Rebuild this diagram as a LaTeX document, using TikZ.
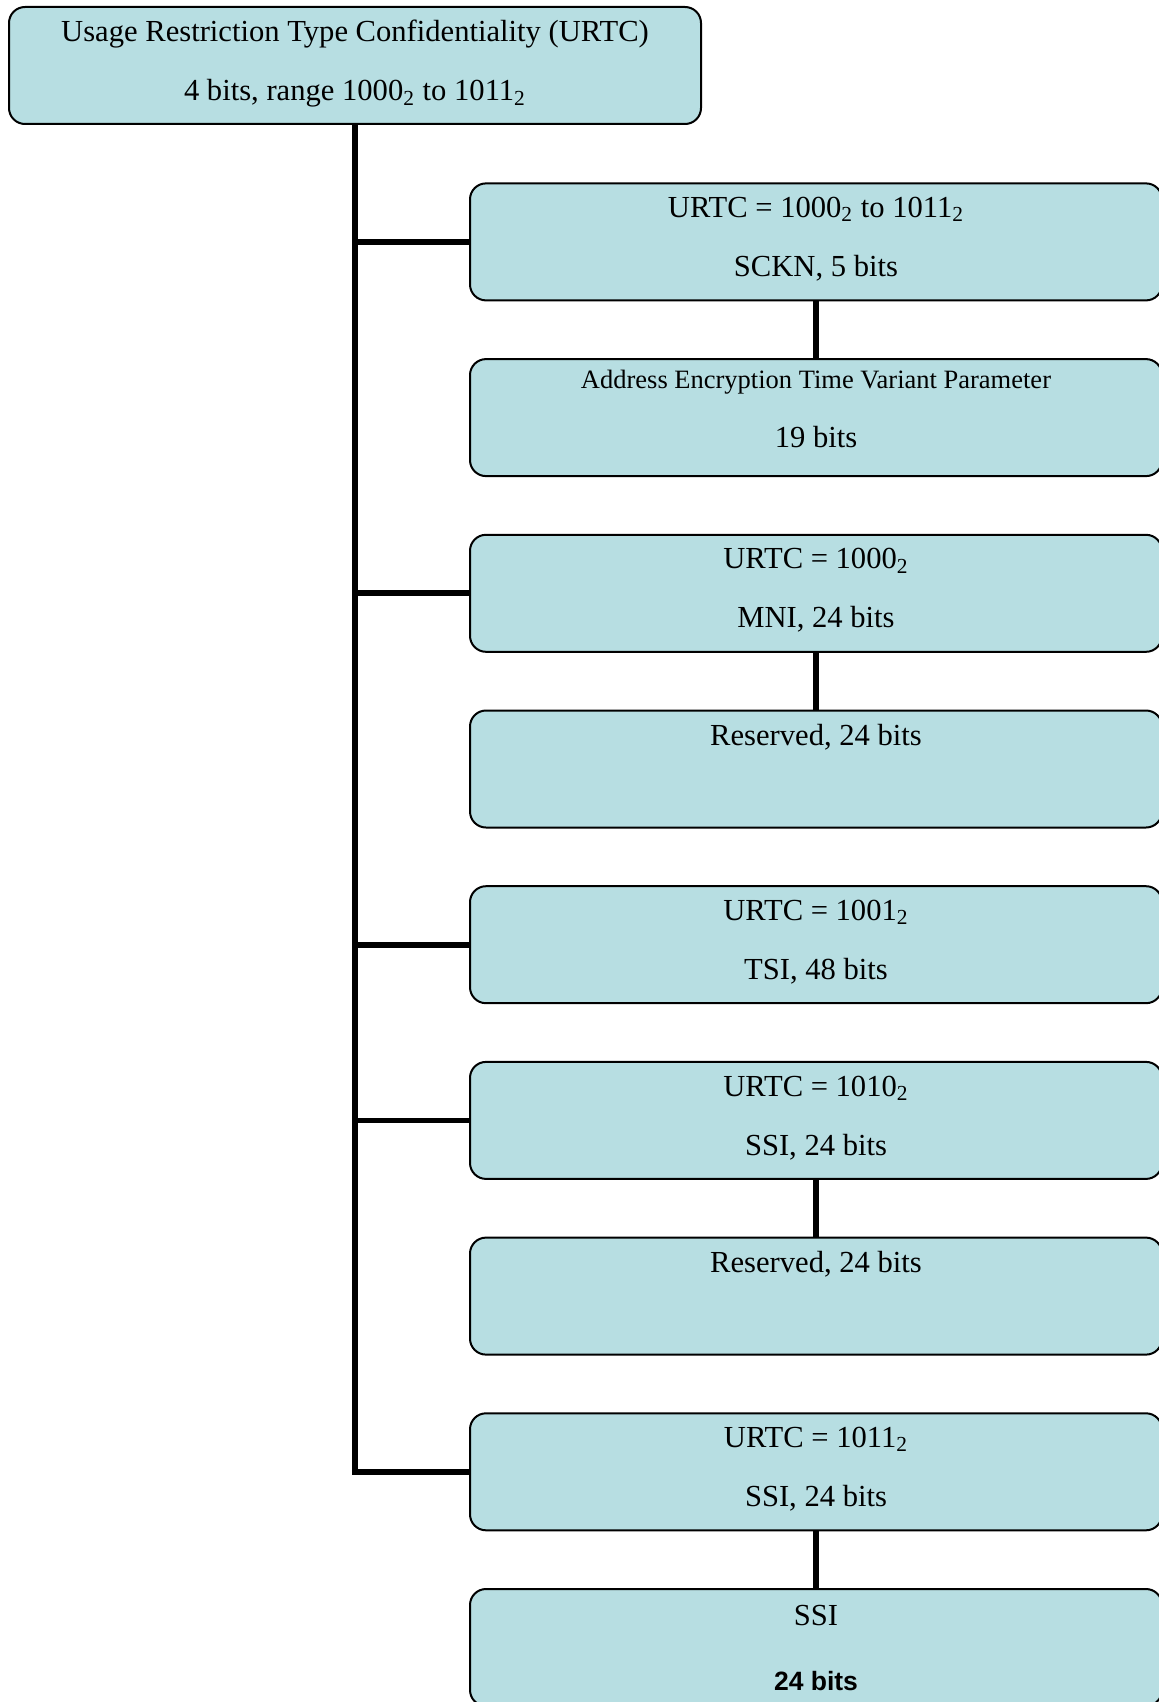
\documentclass[tikz,border=0pt]{standalone}
\usepackage{fontspec}
\setmainfont{Liberation Serif}
\newfontfamily\arialfont{Liberation Sans}
\definecolor{boxfill}{RGB}{183,222,226}
\tikzset{
  box/.style={draw=black, line width=1pt, fill=boxfill, rounded corners=8pt,
    minimum width=346pt, minimum height=58.5pt, inner sep=0pt, align=center,
    font=\fontsize{15.3}{29.5}\selectfont},
  link/.style={line width=2.9pt}
}
\newcommand{\bin}[1]{#1\textsubscript{2}}

\begin{document}
\begin{tikzpicture}[x=0.5pt, y=-0.5pt]
    \useasboundingbox (0,0) rectangle (1159,1702);

    % root
    \node (urtc) at (355,65.5) [box] {Usage Restriction Type Confidentiality (URTC)\\ 4 bits, range \bin{1000} to \bin{1011}\\[-24.5pt] \mbox{}};

    % fields
    \node (sckn) at (816,241.9) [box] {URTC = \bin{1000} to \bin{1011}\\ SCKN, 5 bits\\[-24.5pt] \mbox{}};
    \node (aetvp) at (816,417.6) [box] {{\fontsize{13.25}{15}\selectfont Address Encryption Time Variant Parameter}\\[0pt] 19 bits\\[-20.7pt] \mbox{}};
    \node (mni) at (816,593.3) [box] {URTC = \bin{1000}\\ MNI, 24 bits\\[-24.5pt] \mbox{}};
    \node (resmni) at (816,769.0) [box] {Reserved, 24 bits\\[4.4pt] \mbox{}};
    \node (tsi) at (816,944.7) [box] {URTC = \bin{1001}\\ TSI, 48 bits\\[-24.5pt] \mbox{}};
    \node (ssia) at (816,1120.4) [box] {URTC = \bin{1010}\\ SSI, 24 bits\\[-24.5pt] \mbox{}};
    \node (resssi) at (816,1296.1) [box] {Reserved, 24 bits\\[4.4pt] \mbox{}};
    \node (ssib) at (816,1471.8) [box] {URTC = \bin{1011}\\ SSI, 24 bits\\[-24.5pt] \mbox{}};
    \node (ssi) at (816,1647.5) [box] {SSI\\[3pt] {\arialfont\bfseries\fontsize{13.25}{15}\selectfont 24 bits}};

    % trunk
    \draw [link] (urtc.south) |- (sckn.west);
    \draw [link] (urtc.south) |- (mni.west);
    \draw [link] (urtc.south) |- (tsi.west);
    \draw [link] (urtc.south) |- (ssia.west);
    \draw [link] (urtc.south) |- (ssib.west);

    % pairs
    \draw [link] (sckn) -- (aetvp);
    \draw [link] (mni) -- (resmni);
    \draw [link] (ssia) -- (resssi);
    \draw [link] (ssib) -- (ssi);
\end{tikzpicture}
\end{document}
